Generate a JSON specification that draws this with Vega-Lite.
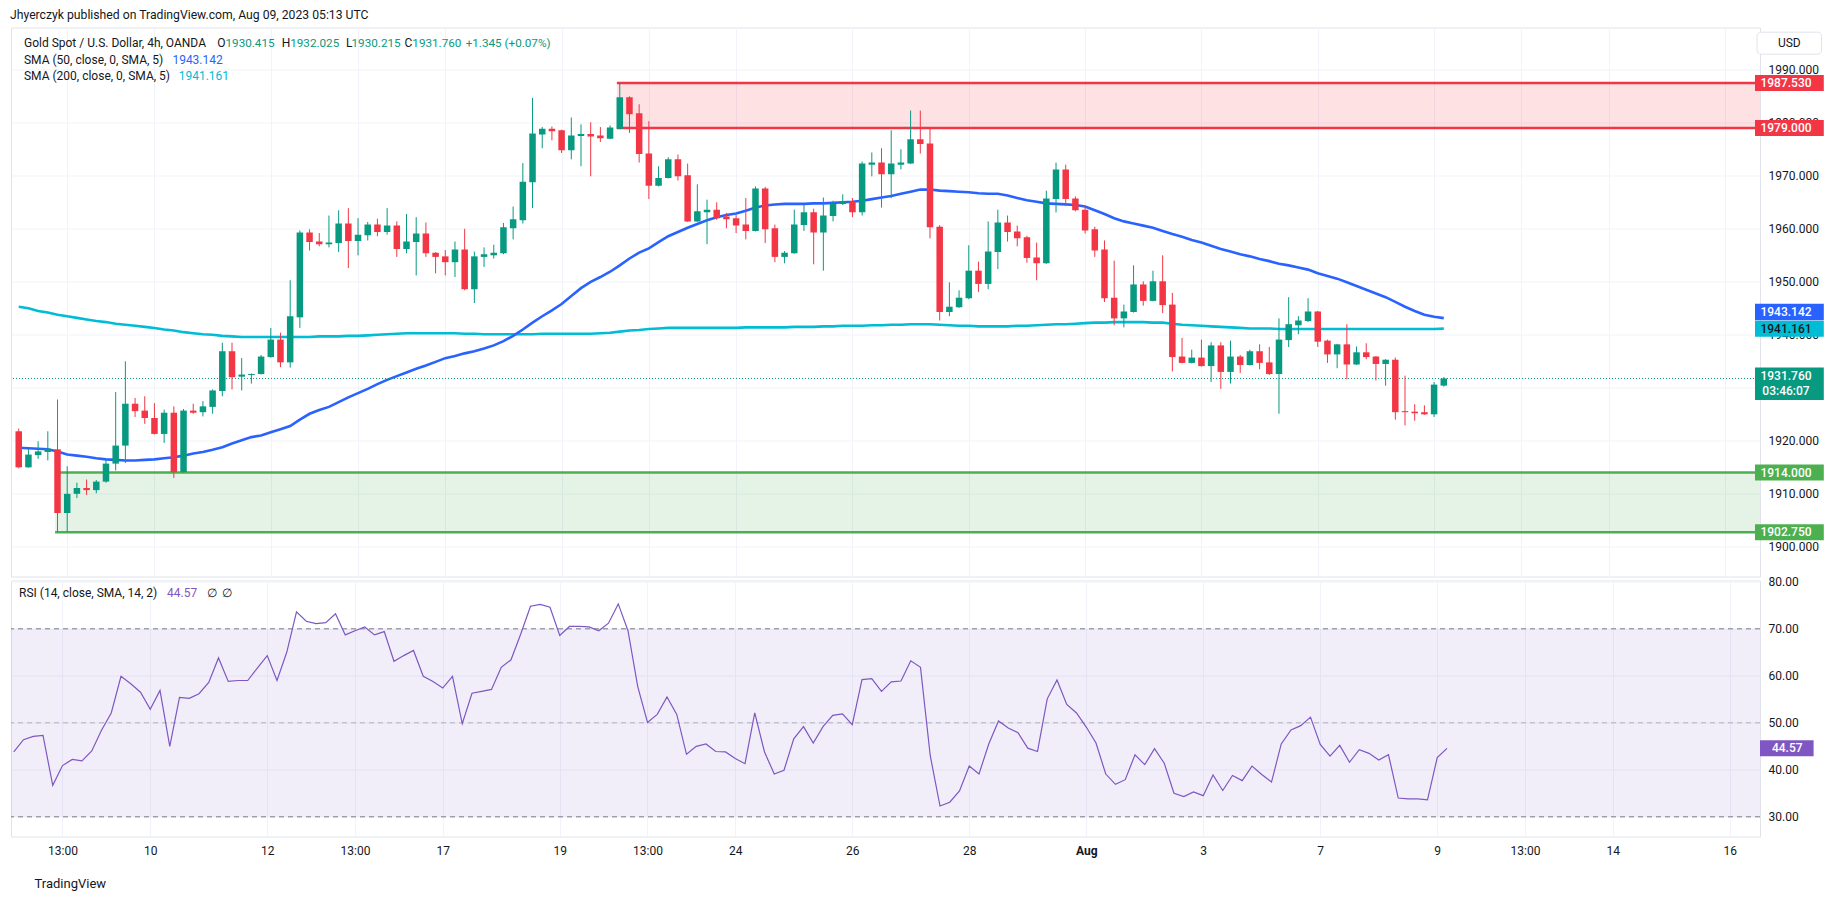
{
  "$schema": "https://vega.github.io/schema/vega-lite/v6.json",
  "background": "#ffffff",
  "padding": {"left": 10, "top": 8.5, "right": 0, "bottom": 0},
  "title": {"text": "Jhyerczyk published on TradingView.com, Aug 09, 2023 05:13 UTC", "anchor": "start", "fontSize": 12.2, "fontWeight": "normal", "font": "Roboto", "color": "#131722", "offset": 6, "dx": 0},
  "datasets": {
    "bars": [
{"i":0,"o":1921.8,"h":1922.3,"l":1914.8,"c":1915.0,"s50":1918.7,"s200":1945.3,"r":43.8},
{"i":1,"o":1915.0,"h":1918.5,"l":1914.9,"c":1917.4,"s50":1918.6,"s200":1945.0,"r":46.4},
{"i":2,"o":1917.3,"h":1919.9,"l":1916.6,"c":1918.0,"s50":1918.5,"s200":1944.5,"r":47.1},
{"i":3,"o":1917.9,"h":1921.8,"l":1916.3,"c":1918.5,"s50":1918.4,"s200":1944.2,"r":47.3},
{"i":4,"o":1918.4,"h":1927.8,"l":1902.75,"c":1906.4,"s50":1918.0,"s200":1943.8,"r":36.7},
{"i":5,"o":1906.4,"h":1915.2,"l":1902.8,"c":1910.0,"s50":1917.4,"s200":1943.5,"r":40.9},
{"i":6,"o":1910.0,"h":1912.1,"l":1909.2,"c":1911.1,"s50":1917.2,"s200":1943.2,"r":42.2},
{"i":7,"o":1911.1,"h":1912.7,"l":1909.8,"c":1910.7,"s50":1917.0,"s200":1942.9,"r":41.9},
{"i":8,"o":1910.7,"h":1912.6,"l":1910.1,"c":1912.3,"s50":1916.7,"s200":1942.6,"r":44.0},
{"i":9,"o":1912.3,"h":1916.6,"l":1912.1,"c":1915.7,"s50":1916.5,"s200":1942.4,"r":48.4},
{"i":10,"o":1915.7,"h":1929.2,"l":1914.4,"c":1919.1,"s50":1916.4,"s200":1942.1,"r":52.1},
{"i":11,"o":1919.1,"h":1935.0,"l":1915.8,"c":1927.0,"s50":1916.3,"s200":1941.9,"r":59.9},
{"i":12,"o":1927.0,"h":1928.1,"l":1924.5,"c":1925.6,"s50":1916.3,"s200":1941.7,"r":58.3},
{"i":13,"o":1925.7,"h":1928.4,"l":1923.2,"c":1924.3,"s50":1916.4,"s200":1941.5,"r":56.5},
{"i":14,"o":1924.3,"h":1927.1,"l":1921.2,"c":1921.3,"s50":1916.5,"s200":1941.3,"r":52.9},
{"i":15,"o":1921.3,"h":1925.9,"l":1919.6,"c":1925.3,"s50":1916.7,"s200":1941.0,"r":56.9},
{"i":16,"o":1925.3,"h":1926.5,"l":1913.0,"c":1914.1,"s50":1916.9,"s200":1940.8,"r":45.0},
{"i":17,"o":1914.1,"h":1926.0,"l":1914.0,"c":1925.7,"s50":1917.2,"s200":1940.5,"r":55.4},
{"i":18,"o":1925.7,"h":1927.0,"l":1925.1,"c":1925.3,"s50":1917.6,"s200":1940.3,"r":55.2},
{"i":19,"o":1925.4,"h":1927.5,"l":1924.6,"c":1926.5,"s50":1917.9,"s200":1940.1,"r":56.2},
{"i":20,"o":1926.4,"h":1929.7,"l":1925.1,"c":1929.5,"s50":1918.3,"s200":1940.0,"r":58.6},
{"i":21,"o":1929.4,"h":1938.5,"l":1928.4,"c":1936.9,"s50":1918.8,"s200":1939.8,"r":63.8},
{"i":22,"o":1936.9,"h":1938.5,"l":1929.7,"c":1932.0,"s50":1919.5,"s200":1939.7,"r":58.8},
{"i":23,"o":1932.1,"h":1935.6,"l":1929.5,"c":1932.5,"s50":1920.1,"s200":1939.6,"r":59.0},
{"i":24,"o":1932.4,"h":1932.7,"l":1930.8,"c":1932.6,"s50":1920.7,"s200":1939.6,"r":59.0},
{"i":25,"o":1932.6,"h":1936.2,"l":1932.5,"c":1935.9,"s50":1921.0,"s200":1939.6,"r":61.7},
{"i":26,"o":1935.8,"h":1941.3,"l":1935.7,"c":1939.1,"s50":1921.6,"s200":1939.6,"r":64.3},
{"i":27,"o":1939.1,"h":1940.4,"l":1933.9,"c":1934.8,"s50":1922.2,"s200":1939.6,"r":59.0},
{"i":28,"o":1934.8,"h":1950.3,"l":1933.8,"c":1943.5,"s50":1922.8,"s200":1939.6,"r":65.0},
{"i":29,"o":1943.3,"h":1959.7,"l":1941.3,"c":1959.3,"s50":1924.0,"s200":1939.6,"r":73.6},
{"i":30,"o":1959.3,"h":1959.9,"l":1955.9,"c":1957.5,"s50":1925.1,"s200":1939.6,"r":71.6},
{"i":31,"o":1957.6,"h":1959.2,"l":1956.7,"c":1957.1,"s50":1925.8,"s200":1939.7,"r":71.1},
{"i":32,"o":1957.1,"h":1962.5,"l":1956.5,"c":1957.4,"s50":1926.4,"s200":1939.7,"r":71.3},
{"i":33,"o":1957.3,"h":1963.5,"l":1955.6,"c":1961.0,"s50":1927.3,"s200":1939.7,"r":73.2},
{"i":34,"o":1961.0,"h":1963.9,"l":1952.6,"c":1957.7,"s50":1928.2,"s200":1939.8,"r":68.7},
{"i":35,"o":1957.7,"h":1962.0,"l":1955.0,"c":1958.9,"s50":1929.0,"s200":1939.8,"r":69.6},
{"i":36,"o":1958.8,"h":1961.3,"l":1957.8,"c":1960.8,"s50":1929.8,"s200":1939.9,"r":70.4},
{"i":37,"o":1960.8,"h":1961.9,"l":1958.6,"c":1959.4,"s50":1930.7,"s200":1940.0,"r":68.7},
{"i":38,"o":1959.4,"h":1963.9,"l":1958.9,"c":1960.6,"s50":1931.5,"s200":1940.1,"r":69.4},
{"i":39,"o":1960.6,"h":1961.4,"l":1954.7,"c":1956.2,"s50":1932.2,"s200":1940.2,"r":63.1},
{"i":40,"o":1956.2,"h":1962.8,"l":1955.4,"c":1957.6,"s50":1932.9,"s200":1940.3,"r":64.3},
{"i":41,"o":1957.5,"h":1962.2,"l":1951.2,"c":1959.1,"s50":1933.6,"s200":1940.3,"r":65.4},
{"i":42,"o":1959.1,"h":1961.2,"l":1954.7,"c":1955.4,"s50":1934.2,"s200":1940.3,"r":59.9},
{"i":43,"o":1955.5,"h":1955.6,"l":1951.6,"c":1954.7,"s50":1934.9,"s200":1940.3,"r":58.8},
{"i":44,"o":1954.8,"h":1956.0,"l":1951.2,"c":1953.7,"s50":1935.6,"s200":1940.3,"r":57.4},
{"i":45,"o":1953.7,"h":1957.6,"l":1950.9,"c":1956.1,"s50":1936.0,"s200":1940.3,"r":59.9},
{"i":46,"o":1956.1,"h":1960.0,"l":1948.4,"c":1948.6,"s50":1936.5,"s200":1940.2,"r":49.8},
{"i":47,"o":1948.6,"h":1955.7,"l":1946.0,"c":1954.8,"s50":1936.9,"s200":1940.2,"r":56.3},
{"i":48,"o":1954.7,"h":1956.5,"l":1952.8,"c":1955.2,"s50":1937.4,"s200":1940.1,"r":56.7},
{"i":49,"o":1955.0,"h":1957.0,"l":1954.4,"c":1955.5,"s50":1938.0,"s200":1940.1,"r":57.1},
{"i":50,"o":1955.4,"h":1961.1,"l":1955.2,"c":1960.3,"s50":1938.8,"s200":1940.1,"r":61.8},
{"i":51,"o":1960.1,"h":1964.2,"l":1958.0,"c":1961.8,"s50":1939.8,"s200":1940.1,"r":63.4},
{"i":52,"o":1961.6,"h":1972.4,"l":1961.0,"c":1968.9,"s50":1941.0,"s200":1940.1,"r":68.9},
{"i":53,"o":1968.8,"h":1984.7,"l":1963.9,"c":1978.0,"s50":1942.3,"s200":1940.1,"r":74.8},
{"i":54,"o":1977.8,"h":1979.2,"l":1975.2,"c":1978.9,"s50":1943.5,"s200":1940.2,"r":75.2},
{"i":55,"o":1978.9,"h":1979.3,"l":1976.7,"c":1978.4,"s50":1944.6,"s200":1940.2,"r":74.6},
{"i":56,"o":1978.6,"h":1978.7,"l":1974.3,"c":1974.8,"s50":1945.8,"s200":1940.2,"r":68.6},
{"i":57,"o":1974.8,"h":1981.0,"l":1973.1,"c":1977.6,"s50":1947.3,"s200":1940.2,"r":70.5},
{"i":58,"o":1977.5,"h":1979.7,"l":1971.8,"c":1977.9,"s50":1948.8,"s200":1940.2,"r":70.5},
{"i":59,"o":1977.9,"h":1980.1,"l":1969.9,"c":1977.4,"s50":1950.0,"s200":1940.2,"r":70.4},
{"i":60,"o":1977.6,"h":1979.2,"l":1976.4,"c":1977.1,"s50":1950.9,"s200":1940.3,"r":69.6},
{"i":61,"o":1977.0,"h":1979.5,"l":1976.9,"c":1979.1,"s50":1951.9,"s200":1940.4,"r":71.2},
{"i":62,"o":1978.9,"h":1987.53,"l":1978.8,"c":1984.8,"s50":1953.1,"s200":1940.6,"r":75.3},
{"i":63,"o":1984.8,"h":1985.0,"l":1978.1,"c":1981.6,"s50":1954.4,"s200":1940.8,"r":69.6},
{"i":64,"o":1981.8,"h":1983.5,"l":1972.5,"c":1974.1,"s50":1955.5,"s200":1940.9,"r":57.7},
{"i":65,"o":1974.2,"h":1980.3,"l":1965.6,"c":1968.1,"s50":1956.3,"s200":1941.1,"r":50.1},
{"i":66,"o":1968.1,"h":1971.8,"l":1968.0,"c":1969.6,"s50":1957.5,"s200":1941.2,"r":51.8},
{"i":67,"o":1969.6,"h":1973.5,"l":1969.5,"c":1973.1,"s50":1958.6,"s200":1941.3,"r":55.5},
{"i":68,"o":1973.1,"h":1974.0,"l":1969.1,"c":1969.9,"s50":1959.4,"s200":1941.3,"r":51.8},
{"i":69,"o":1970.1,"h":1972.3,"l":1961.3,"c":1961.4,"s50":1960.2,"s200":1941.3,"r":43.3},
{"i":70,"o":1961.4,"h":1968.4,"l":1961.3,"c":1963.3,"s50":1960.9,"s200":1941.3,"r":45.0},
{"i":71,"o":1963.1,"h":1965.5,"l":1957.1,"c":1963.6,"s50":1961.6,"s200":1941.3,"r":45.5},
{"i":72,"o":1963.6,"h":1965.0,"l":1961.7,"c":1962.0,"s50":1962.2,"s200":1941.3,"r":43.9},
{"i":73,"o":1962.3,"h":1963.0,"l":1960.1,"c":1961.8,"s50":1962.6,"s200":1941.3,"r":43.8},
{"i":74,"o":1962.0,"h":1962.6,"l":1959.2,"c":1960.6,"s50":1962.9,"s200":1941.3,"r":42.4},
{"i":75,"o":1960.8,"h":1965.8,"l":1958.0,"c":1959.6,"s50":1963.4,"s200":1941.4,"r":41.3},
{"i":76,"o":1959.6,"h":1968.0,"l":1959.5,"c":1967.6,"s50":1964.0,"s200":1941.4,"r":52.1},
{"i":77,"o":1967.6,"h":1967.9,"l":1957.3,"c":1959.9,"s50":1964.4,"s200":1941.4,"r":43.8},
{"i":78,"o":1960.1,"h":1960.8,"l":1953.7,"c":1954.7,"s50":1964.6,"s200":1941.4,"r":39.1},
{"i":79,"o":1954.7,"h":1955.8,"l":1953.5,"c":1955.5,"s50":1964.7,"s200":1941.4,"r":39.9},
{"i":80,"o":1955.4,"h":1963.6,"l":1955.3,"c":1960.8,"s50":1964.7,"s200":1941.5,"r":46.6},
{"i":81,"o":1960.7,"h":1964.5,"l":1959.6,"c":1963.1,"s50":1964.7,"s200":1941.5,"r":49.2},
{"i":82,"o":1963.1,"h":1963.8,"l":1953.3,"c":1959.3,"s50":1964.8,"s200":1941.5,"r":45.7},
{"i":83,"o":1959.3,"h":1965.9,"l":1952.1,"c":1962.5,"s50":1964.8,"s200":1941.6,"r":49.2},
{"i":84,"o":1962.4,"h":1965.3,"l":1961.4,"c":1964.7,"s50":1964.9,"s200":1941.6,"r":51.6},
{"i":85,"o":1964.7,"h":1966.5,"l":1964.5,"c":1965.2,"s50":1965.0,"s200":1941.7,"r":51.9},
{"i":86,"o":1965.2,"h":1965.8,"l":1962.2,"c":1963.1,"s50":1965.1,"s200":1941.7,"r":49.6},
{"i":87,"o":1963.1,"h":1972.7,"l":1962.5,"c":1972.3,"s50":1965.3,"s200":1941.7,"r":59.2},
{"i":88,"o":1972.1,"h":1974.4,"l":1969.9,"c":1972.5,"s50":1965.6,"s200":1941.8,"r":59.4},
{"i":89,"o":1972.5,"h":1975.2,"l":1964.0,"c":1970.3,"s50":1965.9,"s200":1941.8,"r":56.7},
{"i":90,"o":1970.3,"h":1978.6,"l":1965.8,"c":1972.3,"s50":1966.2,"s200":1941.9,"r":58.7},
{"i":91,"o":1972.1,"h":1975.0,"l":1971.2,"c":1972.5,"s50":1966.6,"s200":1941.9,"r":58.9},
{"i":92,"o":1972.3,"h":1982.3,"l":1972.2,"c":1976.9,"s50":1967.0,"s200":1942.0,"r":63.2},
{"i":93,"o":1976.9,"h":1982.3,"l":1974.2,"c":1976.0,"s50":1967.4,"s200":1942.0,"r":61.8},
{"i":94,"o":1976.1,"h":1978.9,"l":1958.2,"c":1960.3,"s50":1967.4,"s200":1942.0,"r":43.0},
{"i":95,"o":1960.4,"h":1960.7,"l":1942.7,"c":1944.3,"s50":1967.2,"s200":1941.9,"r":32.3},
{"i":96,"o":1944.3,"h":1949.9,"l":1943.5,"c":1945.3,"s50":1967.1,"s200":1941.8,"r":33.1},
{"i":97,"o":1945.2,"h":1948.4,"l":1945.1,"c":1947.0,"s50":1967.0,"s200":1941.7,"r":35.5},
{"i":98,"o":1946.9,"h":1956.9,"l":1946.7,"c":1952.1,"s50":1966.9,"s200":1941.7,"r":40.8},
{"i":99,"o":1952.1,"h":1953.8,"l":1948.1,"c":1949.6,"s50":1966.7,"s200":1941.6,"r":39.1},
{"i":100,"o":1949.6,"h":1961.4,"l":1948.6,"c":1955.7,"s50":1966.6,"s200":1941.6,"r":45.5},
{"i":101,"o":1955.6,"h":1963.6,"l":1952.4,"c":1961.2,"s50":1966.6,"s200":1941.6,"r":50.4},
{"i":102,"o":1961.2,"h":1962.5,"l":1957.6,"c":1959.4,"s50":1966.3,"s200":1941.6,"r":48.9},
{"i":103,"o":1959.5,"h":1960.6,"l":1956.7,"c":1958.2,"s50":1965.8,"s200":1941.7,"r":47.9},
{"i":104,"o":1958.4,"h":1958.7,"l":1953.6,"c":1954.5,"s50":1965.4,"s200":1941.7,"r":44.6},
{"i":105,"o":1954.6,"h":1957.4,"l":1950.3,"c":1953.5,"s50":1965.1,"s200":1941.8,"r":43.9},
{"i":106,"o":1953.5,"h":1967.2,"l":1953.4,"c":1965.7,"s50":1964.8,"s200":1941.9,"r":55.1},
{"i":107,"o":1965.6,"h":1972.5,"l":1963.1,"c":1971.2,"s50":1964.7,"s200":1942.0,"r":59.1},
{"i":108,"o":1971.2,"h":1972.1,"l":1964.3,"c":1965.6,"s50":1964.6,"s200":1942.0,"r":53.9},
{"i":109,"o":1965.7,"h":1966.1,"l":1963.3,"c":1963.5,"s50":1964.5,"s200":1942.1,"r":52.1},
{"i":110,"o":1963.6,"h":1964.3,"l":1959.1,"c":1959.7,"s50":1964.2,"s200":1942.2,"r":49.1},
{"i":111,"o":1959.9,"h":1960.4,"l":1954.7,"c":1955.9,"s50":1963.5,"s200":1942.3,"r":45.7},
{"i":112,"o":1956.1,"h":1957.8,"l":1946.2,"c":1946.9,"s50":1962.8,"s200":1942.3,"r":39.1},
{"i":113,"o":1947.0,"h":1954.0,"l":1941.8,"c":1943.1,"s50":1962.0,"s200":1942.4,"r":36.9},
{"i":114,"o":1943.1,"h":1945.7,"l":1941.4,"c":1944.4,"s50":1961.4,"s200":1942.4,"r":37.9},
{"i":115,"o":1944.3,"h":1953.1,"l":1944.2,"c":1949.5,"s50":1961.0,"s200":1942.4,"r":43.2},
{"i":116,"o":1949.5,"h":1950.1,"l":1945.5,"c":1946.4,"s50":1960.6,"s200":1942.4,"r":41.1},
{"i":117,"o":1946.4,"h":1952.1,"l":1946.3,"c":1950.1,"s50":1960.2,"s200":1942.3,"r":44.5},
{"i":118,"o":1950.1,"h":1955.0,"l":1944.1,"c":1945.6,"s50":1959.6,"s200":1942.3,"r":41.4},
{"i":119,"o":1945.7,"h":1947.9,"l":1933.1,"c":1935.8,"s50":1959.0,"s200":1942.1,"r":35.0},
{"i":120,"o":1935.9,"h":1939.4,"l":1934.6,"c":1934.7,"s50":1958.5,"s200":1941.9,"r":34.3},
{"i":121,"o":1934.7,"h":1937.2,"l":1934.6,"c":1935.7,"s50":1957.9,"s200":1941.8,"r":35.3},
{"i":122,"o":1935.7,"h":1939.1,"l":1934.0,"c":1934.1,"s50":1957.4,"s200":1941.7,"r":34.5},
{"i":123,"o":1934.1,"h":1938.6,"l":1931.1,"c":1938.0,"s50":1956.8,"s200":1941.6,"r":38.9},
{"i":124,"o":1938.0,"h":1938.6,"l":1929.8,"c":1933.0,"s50":1956.2,"s200":1941.5,"r":35.6},
{"i":125,"o":1933.0,"h":1938.9,"l":1930.8,"c":1935.9,"s50":1955.7,"s200":1941.4,"r":38.8},
{"i":126,"o":1935.9,"h":1936.2,"l":1932.8,"c":1934.3,"s50":1955.2,"s200":1941.3,"r":37.7},
{"i":127,"o":1934.3,"h":1937.2,"l":1934.2,"c":1936.9,"s50":1954.8,"s200":1941.2,"r":40.8},
{"i":128,"o":1936.9,"h":1938.2,"l":1933.5,"c":1934.7,"s50":1954.3,"s200":1941.2,"r":39.0},
{"i":129,"o":1934.8,"h":1937.7,"l":1932.4,"c":1932.6,"s50":1953.9,"s200":1941.2,"r":37.4},
{"i":130,"o":1932.6,"h":1943.1,"l":1925.1,"c":1939.1,"s50":1953.4,"s200":1941.1,"r":45.5},
{"i":131,"o":1939.0,"h":1947.1,"l":1937.7,"c":1942.0,"s50":1953.1,"s200":1941.1,"r":48.5},
{"i":132,"o":1941.8,"h":1943.5,"l":1940.1,"c":1942.7,"s50":1952.7,"s200":1941.1,"r":49.4},
{"i":133,"o":1942.6,"h":1946.9,"l":1942.4,"c":1944.4,"s50":1952.3,"s200":1941.1,"r":51.2},
{"i":134,"o":1944.4,"h":1944.5,"l":1937.7,"c":1938.7,"s50":1951.6,"s200":1941.1,"r":45.4},
{"i":135,"o":1938.9,"h":1939.1,"l":1934.7,"c":1936.3,"s50":1951.1,"s200":1941.1,"r":42.9},
{"i":136,"o":1936.3,"h":1938.3,"l":1933.7,"c":1938.2,"s50":1950.6,"s200":1941.1,"r":45.2},
{"i":137,"o":1938.2,"h":1942.0,"l":1931.6,"c":1934.4,"s50":1949.9,"s200":1941.1,"r":41.6},
{"i":138,"o":1934.4,"h":1937.8,"l":1934.3,"c":1936.7,"s50":1949.2,"s200":1941.1,"r":44.3},
{"i":139,"o":1936.7,"h":1938.4,"l":1935.4,"c":1935.8,"s50":1948.5,"s200":1941.1,"r":43.5},
{"i":140,"o":1935.9,"h":1936.0,"l":1931.4,"c":1934.5,"s50":1947.8,"s200":1941.1,"r":42.1},
{"i":141,"o":1934.5,"h":1935.4,"l":1930.4,"c":1935.3,"s50":1947.1,"s200":1941.1,"r":43.2},
{"i":142,"o":1935.3,"h":1935.7,"l":1924.0,"c":1925.4,"s50":1946.2,"s200":1941.1,"r":34.0},
{"i":143,"o":1925.6,"h":1932.3,"l":1922.9,"c":1925.4,"s50":1945.3,"s200":1941.1,"r":33.8},
{"i":144,"o":1925.5,"h":1926.9,"l":1923.8,"c":1925.2,"s50":1944.5,"s200":1941.1,"r":33.8},
{"i":145,"o":1925.4,"h":1926.7,"l":1924.9,"c":1925.0,"s50":1943.8,"s200":1941.1,"r":33.6},
{"i":146,"o":1925.0,"h":1931.1,"l":1924.5,"c":1930.6,"s50":1943.4,"s200":1941.1,"r":42.6},
{"i":147,"o":1930.415,"h":1932.025,"l":1930.215,"c":1931.76,"s50":1943.142,"s200":1941.161,"r":44.57}
    ],
    "zones": [
      {"x1": 61.7, "lo": 1979.0, "hi": 1987.53, "k": "r"},
      {"x1": 3.75, "lo": 1902.75, "hi": 1914.0, "k": "g"}
    ],
    "tags": [
      {"v": 1987.53, "t": "1987.530", "k": "r"},
      {"v": 1979.0, "t": "1979.000", "k": "r"},
      {"v": 1941.161, "t": "1941.161", "k": "c"},
      {"v": 1914.0, "t": "1914.000", "k": "g"},
      {"v": 1902.75, "t": "1902.750", "k": "g"}
    ],
    "tagblue": [{"v": 1943.142, "t": "1943.142", "k": "b"}],
    "tagcur": [{"v": 1931.76, "t": "1931.760", "t2": "03:46:07", "k": "cur"}],
    "tagrsi": [{"v": 44.57, "t": "44.57"}]
  },
  "vconcat": [
    {
      "width": 1749,
      "height": 549,
      "resolve": {"axis": {"x": "independent", "y": "independent"}},
      "layer": [
        {
          "data": {"name": "zones"},
          "mark": {"type": "rect", "clip": true, "opacity": 0.15},
          "encoding": {
            "x": {"field": "x1", "type": "quantitative", "scale": {"domain": [-0.282, 179.103], "nice": false, "zero": false},
                  "axis": {"values": [5,14,26,35,44,56,65,74,86,98,110,122,134,146,155,164,176], "grid": true, "labels": false, "ticks": false, "domain": false, "title": null}},
            "x2": {"datum": 200},
            "y": {"field": "lo", "type": "quantitative", "scale": {"domain": [1894.4, 1997.98], "nice": false, "zero": false},
                  "axis": {"orient": "right", "values": [1900,1910,1920,1930,1940,1950,1960,1970,1980,1990], "format": ".3f", "grid": true, "ticks": false, "domain": false, "title": null, "labelAlign": "left", "labelPadding": 8, "labelBaseline": "middle"}},
            "y2": {"field": "hi"},
            "color": {"field": "k", "type": "nominal", "scale": {"domain": ["r","g","c","b","cur"], "range": ["#f23645","#4caf50","#00bcd4","#2962ff","#089981"]}, "legend": null}
          }
        },
        {
          "data": {"name": "zones"},
          "mark": {"type": "rule", "clip": true, "strokeWidth": 2.5},
          "encoding": {
            "x": {"field": "x1", "type": "quantitative", "scale": {"domain": [-0.282, 179.103], "nice": false, "zero": false}, "axis": null},
            "x2": {"datum": 200},
            "y": {"field": "hi", "type": "quantitative", "scale": {"domain": [1894.4, 1997.98], "nice": false, "zero": false}, "axis": null},
            "color": {"field": "k", "type": "nominal", "scale": {"domain": ["r","g","c","b","cur"], "range": ["#f23645","#4caf50","#00bcd4","#2962ff","#089981"]}, "legend": null}
          }
        },
        {
          "data": {"name": "zones"},
          "mark": {"type": "rule", "clip": true, "strokeWidth": 2.5},
          "encoding": {
            "x": {"field": "x1", "type": "quantitative", "scale": {"domain": [-0.282, 179.103], "nice": false, "zero": false}, "axis": null},
            "x2": {"datum": 200},
            "y": {"field": "lo", "type": "quantitative", "scale": {"domain": [1894.4, 1997.98], "nice": false, "zero": false}, "axis": null},
            "color": {"field": "k", "type": "nominal", "scale": {"domain": ["r","g","c","b","cur"], "range": ["#f23645","#4caf50","#00bcd4","#2962ff","#089981"]}, "legend": null}
          }
        },
        {
          "data": {"name": "bars"},
          "mark": {"type": "line", "clip": true, "strokeWidth": 2.6, "color": "#00bcd4"},
          "encoding": {
            "x": {"field": "i", "type": "quantitative", "scale": {"domain": [-0.282, 179.103], "nice": false, "zero": false}, "axis": null},
            "y": {"field": "s200", "type": "quantitative", "scale": {"domain": [1894.4, 1997.98], "nice": false, "zero": false}, "axis": null}
          }
        },
        {
          "data": {"name": "bars"},
          "mark": {"type": "line", "clip": true, "strokeWidth": 2.6, "color": "#2962ff"},
          "encoding": {
            "x": {"field": "i", "type": "quantitative", "scale": {"domain": [-0.282, 179.103], "nice": false, "zero": false}, "axis": null},
            "y": {"field": "s50", "type": "quantitative", "scale": {"domain": [1894.4, 1997.98], "nice": false, "zero": false}, "axis": null}
          }
        },
        {
          "data": {"name": "tagcur"},
          "mark": {"type": "rule", "color": "#089981", "strokeWidth": 1, "strokeDash": [1, 2]},
          "encoding": {
            "y": {"field": "v", "type": "quantitative", "scale": {"domain": [1894.4, 1997.98], "nice": false, "zero": false}, "axis": null}
          }
        },
        {
          "data": {"name": "bars"},
          "mark": {"type": "rule", "clip": true, "strokeWidth": 1},
          "encoding": {
            "x": {"field": "i", "type": "quantitative", "scale": {"domain": [-0.282, 179.103], "nice": false, "zero": false}, "axis": null},
            "y": {"field": "l", "type": "quantitative", "scale": {"domain": [1894.4, 1997.98], "nice": false, "zero": false}, "axis": null},
            "y2": {"field": "h"},
            "color": {"condition": {"test": "datum.c >= datum.o", "value": "#089981"}, "value": "#f23645"}
          }
        },
        {
          "data": {"name": "bars"},
          "mark": {"type": "bar", "clip": true, "width": 6.5},
          "encoding": {
            "x": {"field": "i", "type": "quantitative", "scale": {"domain": [-0.282, 179.103], "nice": false, "zero": false}, "axis": null},
            "y": {"field": "o", "type": "quantitative", "scale": {"domain": [1894.4, 1997.98], "nice": false, "zero": false}, "axis": null},
            "y2": {"field": "c"},
            "color": {"condition": {"test": "datum.c >= datum.o", "value": "#089981"}, "value": "#f23645"}
          }
        },
        {
          "data": {"values": [{"t": "USD"}]},
          "mark": {"type": "rect", "clip": false, "fill": "#ffffff", "stroke": "#e0e3eb", "strokeWidth": 1, "cornerRadius": 4},
          "encoding": {
            "x": {"datum": 179.31, "type": "quantitative", "scale": {"domain": [-0.282, 179.103], "nice": false, "zero": false}, "axis": null},
            "x2": {"datum": 185.97},
            "y": {"datum": 1997.1, "type": "quantitative", "scale": {"domain": [1894.4, 1997.98], "nice": false, "zero": false}, "axis": null},
            "y2": {"datum": 1992.95}
          }
        },
        {
          "data": {"values": [{"t": "USD"}]},
          "mark": {"type": "text", "clip": false, "align": "center", "baseline": "middle", "fontSize": 12, "font": "Roboto", "color": "#131722"},
          "encoding": {
            "x": {"datum": 182.64, "type": "quantitative", "scale": {"domain": [-0.282, 179.103], "nice": false, "zero": false}, "axis": null},
            "y": {"datum": 1995.02, "type": "quantitative", "scale": {"domain": [1894.4, 1997.98], "nice": false, "zero": false}, "axis": null},
            "text": {"field": "t"}
          }
        },
        {
          "data": {"name": "tags"},
          "mark": {"type": "rect", "clip": false, "yOffset": -8, "y2Offset": 8},
          "encoding": {
            "x": {"datum": 179.103, "type": "quantitative", "scale": {"domain": [-0.282, 179.103], "nice": false, "zero": false}, "axis": null},
            "x2": {"datum": 186.2},
            "y": {"field": "v", "type": "quantitative", "scale": {"domain": [1894.4, 1997.98], "nice": false, "zero": false}, "axis": null},
            "y2": {"field": "v"},
            "color": {"field": "k", "type": "nominal", "scale": {"domain": ["r","g","c","b","cur"], "range": ["#f23645","#4caf50","#00bcd4","#2962ff","#089981"]}, "legend": null}
          }
        },
        {
          "data": {"name": "tagblue"},
          "mark": {"type": "rect", "clip": false, "yOffset": -14.5, "y2Offset": 2},
          "encoding": {
            "x": {"datum": 179.103, "type": "quantitative", "scale": {"domain": [-0.282, 179.103], "nice": false, "zero": false}, "axis": null},
            "x2": {"datum": 186.2},
            "y": {"field": "v", "type": "quantitative", "scale": {"domain": [1894.4, 1997.98], "nice": false, "zero": false}, "axis": null},
            "y2": {"field": "v"},
            "color": {"field": "k", "type": "nominal", "scale": {"domain": ["r","g","c","b","cur"], "range": ["#f23645","#4caf50","#00bcd4","#2962ff","#089981"]}, "legend": null}
          }
        },
        {
          "data": {"name": "tagcur"},
          "mark": {"type": "rect", "clip": false, "yOffset": -11, "y2Offset": 21.5},
          "encoding": {
            "x": {"datum": 179.103, "type": "quantitative", "scale": {"domain": [-0.282, 179.103], "nice": false, "zero": false}, "axis": null},
            "x2": {"datum": 186.2},
            "y": {"field": "v", "type": "quantitative", "scale": {"domain": [1894.4, 1997.98], "nice": false, "zero": false}, "axis": null},
            "y2": {"field": "v"},
            "color": {"field": "k", "type": "nominal", "scale": {"domain": ["r","g","c","b","cur"], "range": ["#f23645","#4caf50","#00bcd4","#2962ff","#089981"]}, "legend": null}
          }
        },
        {
          "data": {"name": "tags"},
          "mark": {"type": "text", "clip": false, "align": "center", "baseline": "middle", "fontSize": 12, "font": "Roboto", "fontWeight": 500},
          "encoding": {
            "x": {"datum": 182.3, "type": "quantitative", "scale": {"domain": [-0.282, 179.103], "nice": false, "zero": false}, "axis": null},
            "y": {"field": "v", "type": "quantitative", "scale": {"domain": [1894.4, 1997.98], "nice": false, "zero": false}, "axis": null},
            "text": {"field": "t"},
            "color": {"condition": {"test": "datum.k == 'c'", "value": "#131722"}, "value": "#ffffff"}
          }
        },
        {
          "data": {"name": "tagblue"},
          "mark": {"type": "text", "clip": false, "align": "center", "baseline": "middle", "fontSize": 12, "font": "Roboto", "fontWeight": 500, "dy": -6.5, "color": "#ffffff"},
          "encoding": {
            "x": {"datum": 182.3, "type": "quantitative", "scale": {"domain": [-0.282, 179.103], "nice": false, "zero": false}, "axis": null},
            "y": {"field": "v", "type": "quantitative", "scale": {"domain": [1894.4, 1997.98], "nice": false, "zero": false}, "axis": null},
            "text": {"field": "t"}
          }
        },
        {
          "data": {"name": "tagcur"},
          "mark": {"type": "text", "clip": false, "align": "center", "baseline": "middle", "fontSize": 12, "font": "Roboto", "fontWeight": 500, "dy": -2, "color": "#ffffff"},
          "encoding": {
            "x": {"datum": 182.3, "type": "quantitative", "scale": {"domain": [-0.282, 179.103], "nice": false, "zero": false}, "axis": null},
            "y": {"field": "v", "type": "quantitative", "scale": {"domain": [1894.4, 1997.98], "nice": false, "zero": false}, "axis": null},
            "text": {"field": "t"}
          }
        },
        {
          "data": {"name": "tagcur"},
          "mark": {"type": "text", "clip": false, "align": "center", "baseline": "middle", "fontSize": 12, "font": "Roboto", "fontWeight": 500, "dy": 13, "color": "#ffffff"},
          "encoding": {
            "x": {"datum": 182.3, "type": "quantitative", "scale": {"domain": [-0.282, 179.103], "nice": false, "zero": false}, "axis": null},
            "y": {"field": "v", "type": "quantitative", "scale": {"domain": [1894.4, 1997.98], "nice": false, "zero": false}, "axis": null},
            "text": {"field": "t2"}
          }
        },
        {"data": {"values": [{"t": "Gold Spot / U.S. Dollar, 4h, OANDA"}]}, "mark": {"type": "text", "align": "left", "baseline": "middle", "fontSize": 12, "font": "Roboto", "color": "#131722"},
         "encoding": {"x": {"datum": 0.54, "type": "quantitative", "scale": {"domain": [-0.282, 179.103], "nice": false, "zero": false}, "axis": null}, "y": {"datum": 1995.02, "type": "quantitative", "scale": {"domain": [1894.4, 1997.98], "nice": false, "zero": false}, "axis": null}, "text": {"field": "t"}}},
        {"data": {"values": [{"t": "O"}]}, "mark": {"type": "text", "align": "left", "baseline": "middle", "fontSize": 12, "font": "Roboto", "color": "#131722"},
         "encoding": {"x": {"datum": 20.47, "type": "quantitative", "scale": {"domain": [-0.282, 179.103], "nice": false, "zero": false}, "axis": null}, "y": {"datum": 1995.02, "type": "quantitative", "scale": {"domain": [1894.4, 1997.98], "nice": false, "zero": false}, "axis": null}, "text": {"field": "t"}}},
        {"data": {"values": [{"t": "1930.415"}]}, "mark": {"type": "text", "align": "left", "baseline": "middle", "fontSize": 11.7, "font": "Roboto", "color": "#089981"},
         "encoding": {"x": {"datum": 21.33, "type": "quantitative", "scale": {"domain": [-0.282, 179.103], "nice": false, "zero": false}, "axis": null}, "y": {"datum": 1995.02, "type": "quantitative", "scale": {"domain": [1894.4, 1997.98], "nice": false, "zero": false}, "axis": null}, "text": {"field": "t"}}},
        {"data": {"values": [{"t": "H"}]}, "mark": {"type": "text", "align": "left", "baseline": "middle", "fontSize": 12, "font": "Roboto", "color": "#131722"},
         "encoding": {"x": {"datum": 27.13, "type": "quantitative", "scale": {"domain": [-0.282, 179.103], "nice": false, "zero": false}, "axis": null}, "y": {"datum": 1995.02, "type": "quantitative", "scale": {"domain": [1894.4, 1997.98], "nice": false, "zero": false}, "axis": null}, "text": {"field": "t"}}},
        {"data": {"values": [{"t": "1932.025"}]}, "mark": {"type": "text", "align": "left", "baseline": "middle", "fontSize": 11.7, "font": "Roboto", "color": "#089981"},
         "encoding": {"x": {"datum": 28.0, "type": "quantitative", "scale": {"domain": [-0.282, 179.103], "nice": false, "zero": false}, "axis": null}, "y": {"datum": 1995.02, "type": "quantitative", "scale": {"domain": [1894.4, 1997.98], "nice": false, "zero": false}, "axis": null}, "text": {"field": "t"}}},
        {"data": {"values": [{"t": "L"}]}, "mark": {"type": "text", "align": "left", "baseline": "middle", "fontSize": 12, "font": "Roboto", "color": "#131722"},
         "encoding": {"x": {"datum": 33.77, "type": "quantitative", "scale": {"domain": [-0.282, 179.103], "nice": false, "zero": false}, "axis": null}, "y": {"datum": 1995.02, "type": "quantitative", "scale": {"domain": [1894.4, 1997.98], "nice": false, "zero": false}, "axis": null}, "text": {"field": "t"}}},
        {"data": {"values": [{"t": "1930.215"}]}, "mark": {"type": "text", "align": "left", "baseline": "middle", "fontSize": 11.7, "font": "Roboto", "color": "#089981"},
         "encoding": {"x": {"datum": 34.33, "type": "quantitative", "scale": {"domain": [-0.282, 179.103], "nice": false, "zero": false}, "axis": null}, "y": {"datum": 1995.02, "type": "quantitative", "scale": {"domain": [1894.4, 1997.98], "nice": false, "zero": false}, "axis": null}, "text": {"field": "t"}}},
        {"data": {"values": [{"t": "C"}]}, "mark": {"type": "text", "align": "left", "baseline": "middle", "fontSize": 12, "font": "Roboto", "color": "#131722"},
         "encoding": {"x": {"datum": 39.8, "type": "quantitative", "scale": {"domain": [-0.282, 179.103], "nice": false, "zero": false}, "axis": null}, "y": {"datum": 1995.02, "type": "quantitative", "scale": {"domain": [1894.4, 1997.98], "nice": false, "zero": false}, "axis": null}, "text": {"field": "t"}}},
        {"data": {"values": [{"t": "1931.760"}]}, "mark": {"type": "text", "align": "left", "baseline": "middle", "fontSize": 11.7, "font": "Roboto", "color": "#089981"},
         "encoding": {"x": {"datum": 40.6, "type": "quantitative", "scale": {"domain": [-0.282, 179.103], "nice": false, "zero": false}, "axis": null}, "y": {"datum": 1995.02, "type": "quantitative", "scale": {"domain": [1894.4, 1997.98], "nice": false, "zero": false}, "axis": null}, "text": {"field": "t"}}},
        {"data": {"values": [{"t": "+1.345 (+0.07%)"}]}, "mark": {"type": "text", "align": "left", "baseline": "middle", "fontSize": 11.7, "font": "Roboto", "color": "#089981"},
         "encoding": {"x": {"datum": 46.1, "type": "quantitative", "scale": {"domain": [-0.282, 179.103], "nice": false, "zero": false}, "axis": null}, "y": {"datum": 1995.02, "type": "quantitative", "scale": {"domain": [1894.4, 1997.98], "nice": false, "zero": false}, "axis": null}, "text": {"field": "t"}}},
        {"data": {"values": [{"t": "SMA (50, close, 0, SMA, 5)"}]}, "mark": {"type": "text", "align": "left", "baseline": "middle", "fontSize": 12, "font": "Roboto", "color": "#131722"},
         "encoding": {"x": {"datum": 0.54, "type": "quantitative", "scale": {"domain": [-0.282, 179.103], "nice": false, "zero": false}, "axis": null}, "y": {"datum": 1991.89, "type": "quantitative", "scale": {"domain": [1894.4, 1997.98], "nice": false, "zero": false}, "axis": null}, "text": {"field": "t"}}},
        {"data": {"values": [{"t": "1943.142"}]}, "mark": {"type": "text", "align": "left", "baseline": "middle", "fontSize": 12, "font": "Roboto", "color": "#2962ff"},
         "encoding": {"x": {"datum": 15.85, "type": "quantitative", "scale": {"domain": [-0.282, 179.103], "nice": false, "zero": false}, "axis": null}, "y": {"datum": 1991.89, "type": "quantitative", "scale": {"domain": [1894.4, 1997.98], "nice": false, "zero": false}, "axis": null}, "text": {"field": "t"}}},
        {"data": {"values": [{"t": "SMA (200, close, 0, SMA, 5)"}]}, "mark": {"type": "text", "align": "left", "baseline": "middle", "fontSize": 12, "font": "Roboto", "color": "#131722"},
         "encoding": {"x": {"datum": 0.54, "type": "quantitative", "scale": {"domain": [-0.282, 179.103], "nice": false, "zero": false}, "axis": null}, "y": {"datum": 1988.74, "type": "quantitative", "scale": {"domain": [1894.4, 1997.98], "nice": false, "zero": false}, "axis": null}, "text": {"field": "t"}}},
        {"data": {"values": [{"t": "1941.161"}]}, "mark": {"type": "text", "align": "left", "baseline": "middle", "fontSize": 12, "font": "Roboto", "color": "#00bcd4"},
         "encoding": {"x": {"datum": 16.5, "type": "quantitative", "scale": {"domain": [-0.282, 179.103], "nice": false, "zero": false}, "axis": null}, "y": {"datum": 1988.74, "type": "quantitative", "scale": {"domain": [1894.4, 1997.98], "nice": false, "zero": false}, "axis": null}, "text": {"field": "t"}}}
      ]
    },
    {
      "width": 1749,
      "height": 256,
      "resolve": {"axis": {"x": "independent", "y": "independent"}},
      "layer": [
        {
          "data": {"values": [{"lo": 30, "hi": 70}]},
          "mark": {"type": "rect", "clip": true, "color": "#7e57c2", "opacity": 0.1},
          "encoding": {
            "x": {"datum": -5, "type": "quantitative", "scale": {"domain": [-0.282, 179.103], "nice": false, "zero": false},
                  "axis": {"values": [5,14,26,35,44,56,65,74,86,98,110,122,134,146,155,164,176], "grid": true, "ticks": false, "tickSize": 0, "domain": false, "labelPadding": 9,
                           "labelExpr": "datum.value==5?'13:00':datum.value==14?'10':datum.value==26?'12':datum.value==35?'13:00':datum.value==44?'17':datum.value==56?'19':datum.value==65?'13:00':datum.value==74?'24':datum.value==86?'26':datum.value==98?'28':datum.value==110?'Aug':datum.value==122?'3':datum.value==134?'7':datum.value==146?'9':datum.value==155?'13:00':datum.value==164?'14':'16'",
                           "labelFontWeight": {"condition": {"test": "datum.value == 110", "value": "bold"}, "value": "normal"},
                           "title": "TradingView", "titleX": 23, "titleY": 46.7, "titleAlign": "left", "titleBaseline": "middle", "titleAnchor": "start", "titleFontSize": 13, "titleFontWeight": "normal", "titleColor": "#131722", "titleFont": "Roboto"}},
            "x2": {"datum": 200},
            "y": {"field": "lo", "type": "quantitative", "scale": {"domain": [25.81, 80.28], "nice": false, "zero": false},
                  "axis": {"orient": "right", "values": [30,40,50,60,70,80], "format": ".2f", "grid": true, "ticks": false, "domain": false, "title": null, "labelAlign": "left", "labelPadding": 8, "labelBaseline": "middle"}},
            "y2": {"field": "hi"}
          }
        },
        {
          "data": {"values": [{"v": 70}, {"v": 30}]},
          "mark": {"type": "rule", "color": "#787b86", "strokeWidth": 1, "strokeDash": [5, 4]},
          "encoding": {
            "y": {"field": "v", "type": "quantitative", "scale": {"domain": [25.81, 80.28], "nice": false, "zero": false}, "axis": null}
          }
        },
        {
          "data": {"values": [{"v": 50}]},
          "mark": {"type": "rule", "color": "#787b86", "opacity": 0.5, "strokeWidth": 1, "strokeDash": [5, 4]},
          "encoding": {
            "y": {"field": "v", "type": "quantitative", "scale": {"domain": [25.81, 80.28], "nice": false, "zero": false}, "axis": null}
          }
        },
        {
          "data": {"name": "bars"},
          "mark": {"type": "line", "clip": true, "strokeWidth": 1.2, "color": "#7e57c2"},
          "encoding": {
            "x": {"field": "i", "type": "quantitative", "scale": {"domain": [-0.282, 179.103], "nice": false, "zero": false}, "axis": null},
            "y": {"field": "r", "type": "quantitative", "scale": {"domain": [25.81, 80.28], "nice": false, "zero": false}, "axis": null}
          }
        },
        {
          "data": {"name": "tagrsi"},
          "mark": {"type": "rect", "clip": false, "color": "#7e57c2", "yOffset": -8, "y2Offset": 8},
          "encoding": {
            "x": {"datum": 179.103, "type": "quantitative", "scale": {"domain": [-0.282, 179.103], "nice": false, "zero": false}, "axis": null},
            "x2": {"datum": 184.6},
            "y": {"field": "v", "type": "quantitative", "scale": {"domain": [25.81, 80.28], "nice": false, "zero": false}, "axis": null},
            "y2": {"field": "v"}
          }
        },
        {
          "data": {"name": "tagrsi"},
          "mark": {"type": "text", "clip": false, "align": "center", "baseline": "middle", "fontSize": 12, "font": "Roboto", "fontWeight": 500, "color": "#ffffff"},
          "encoding": {
            "x": {"datum": 181.9, "type": "quantitative", "scale": {"domain": [-0.282, 179.103], "nice": false, "zero": false}, "axis": null},
            "y": {"field": "v", "type": "quantitative", "scale": {"domain": [25.81, 80.28], "nice": false, "zero": false}, "axis": null},
            "text": {"field": "t"}
          }
        },
        {"data": {"values": [{"t": "RSI (14, close, SMA, 14, 2)"}]}, "mark": {"type": "text", "align": "left", "baseline": "middle", "fontSize": 12, "font": "Roboto", "color": "#131722"},
         "encoding": {"x": {"datum": 0.54, "type": "quantitative", "scale": {"domain": [-0.282, 179.103], "nice": false, "zero": false}, "axis": null}, "y": {"datum": 77.66, "type": "quantitative", "scale": {"domain": [25.81, 80.28], "nice": false, "zero": false}, "axis": null}, "text": {"field": "t"}}},
        {"data": {"values": [{"t": "44.57"}]}, "mark": {"type": "text", "align": "left", "baseline": "middle", "fontSize": 12, "font": "Roboto", "color": "#7e57c2"},
         "encoding": {"x": {"datum": 15.72, "type": "quantitative", "scale": {"domain": [-0.282, 179.103], "nice": false, "zero": false}, "axis": null}, "y": {"datum": 77.66, "type": "quantitative", "scale": {"domain": [25.81, 80.28], "nice": false, "zero": false}, "axis": null}, "text": {"field": "t"}}},
        {"data": {"values": [{"t": "∅"}]}, "mark": {"type": "text", "align": "left", "baseline": "middle", "fontSize": 12, "font": "Roboto", "color": "#131722"},
         "encoding": {"x": {"datum": 19.82, "type": "quantitative", "scale": {"domain": [-0.282, 179.103], "nice": false, "zero": false}, "axis": null}, "y": {"datum": 77.66, "type": "quantitative", "scale": {"domain": [25.81, 80.28], "nice": false, "zero": false}, "axis": null}, "text": {"field": "t"}}},
        {"data": {"values": [{"t": "∅"}]}, "mark": {"type": "text", "align": "left", "baseline": "middle", "fontSize": 12, "font": "Roboto", "color": "#131722"},
         "encoding": {"x": {"datum": 21.36, "type": "quantitative", "scale": {"domain": [-0.282, 179.103], "nice": false, "zero": false}, "axis": null}, "y": {"datum": 77.66, "type": "quantitative", "scale": {"domain": [25.81, 80.28], "nice": false, "zero": false}, "axis": null}, "text": {"field": "t"}}}
      ]
    }
  ],
  "spacing": 4,
  "bounds": "flush",
  "config": {
    "font": "Roboto",
    "view": {"stroke": "#e0e3eb"},
    "axis": {"labelFont": "Roboto", "labelFontSize": 12, "labelColor": "#131722", "gridColor": "#f0f3fa", "gridWidth": 1}
  }
}
